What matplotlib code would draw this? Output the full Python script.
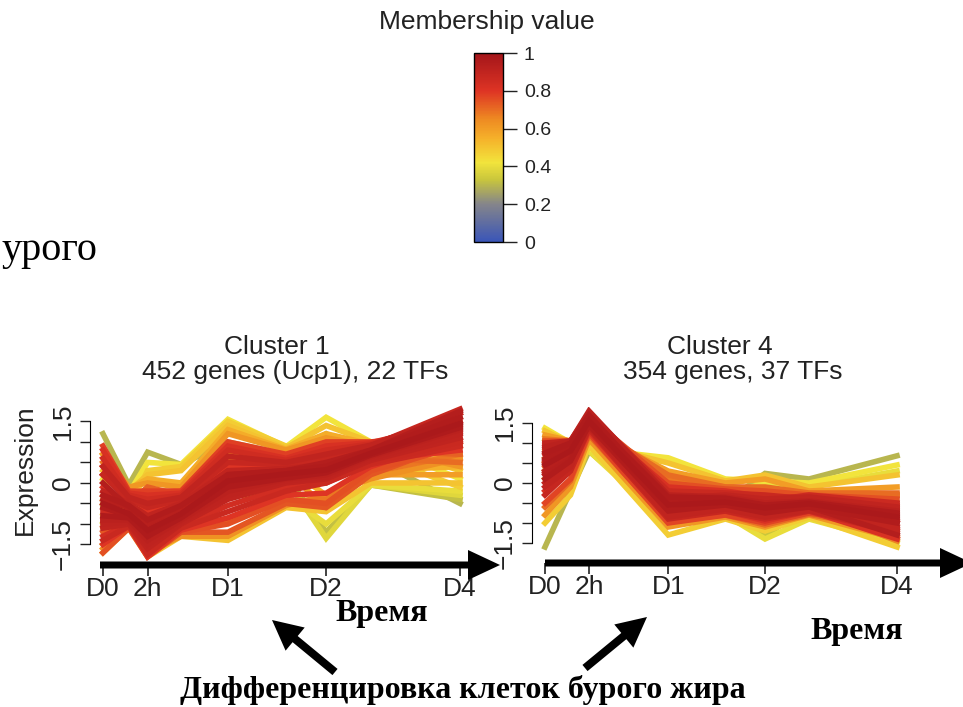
"""
Mfuzz-style cluster profiles (Cluster 1 and Cluster 4) with membership colour bar
and the Russian annotations around them.
"""
import matplotlib
matplotlib.use("Agg")
import matplotlib.pyplot as plt
from matplotlib.colors import LinearSegmentedColormap, Normalize
from matplotlib.cm import ScalarMappable
from matplotlib.patches import FancyArrow

# time points (9 measurements, only 5 are labelled)
time_pos = [0, 0.58, 1.0, 1.75, 2.8, 4.1, 5.0, 6.0, 8.0]
tick_pos = [0, 1.0, 2.8, 5.0, 8.0]
tick_labels = ["D0", "2h", "D1", "D2", "D4"]

# cluster 1: expression profiles and membership values
c1_profiles = [
    [-0.6, -0.8, -1.2, -0.8, 0.0, 0.2, 0.3, 0.7, 1.4],
    [-0.4, -0.6, -1.0, -0.6, 0.1, 0.25, 0.35, 0.75, 1.5],
    [-0.9, -0.9, -1.4, -0.9, -0.2, 0.1, 0.2, 0.65, 1.3],
    [-0.2, -0.5, -0.8, -0.5, 0.3, 0.35, 0.45, 0.85, 1.7],
    [-1.1, -1.0, -1.6, -1.0, -0.4, 0.0, 0.1, 0.55, 1.1],
    [0.2, -0.4, -0.6, -0.4, 0.5, 0.45, 0.6, 0.9, 1.8],
    [-1.4, -1.05, -1.75, -1.1, -0.7, -0.2, 0.0, 0.5, 1.0],
    [0.6, -0.3, -0.4, -0.3, 0.8, 0.55, 0.8, 0.95, 1.6],
    [-0.7, -0.7, -1.1, -0.7, -0.1, 0.15, 0.0, 0.45, 0.9],
    [0.0, -0.6, -1.3, -0.8, 0.2, 0.3, 0.5, 0.8, 1.75],
    [-0.5, -0.75, -1.15, -0.75, 0.05, 0.22, 0.32, 0.72, 1.45],
    [-0.8, -0.85, -1.3, -0.85, -0.1, 0.12, 0.25, 0.68, 1.35],
    [-0.3, -0.55, -0.9, -0.55, 0.2, 0.3, 0.4, 0.8, 1.6],
    [0.4, -0.35, -0.5, -0.35, 0.65, 0.5, 0.7, 0.92, 1.7],
    [-1.0, -0.95, -1.5, -0.95, -0.3, 0.05, 0.15, 0.6, 1.2],
    [-1.3, -1.0, -1.7, -1.05, -0.55, -0.1, 0.05, 0.5, 1.05],
    [0.8, -0.25, -0.3, -0.25, 0.9, 0.6, 0.9, 0.98, 1.5],
    [-0.1, -0.6, -0.7, -0.45, 0.4, 0.4, 0.55, 0.85, 1.0],
    [-0.9, -0.8, -1.2, -0.6, 0.1, 0.25, 0.1, 0.55, 0.8],
    [0.2, -0.45, -1.0, -0.7, 0.0, 0.2, 0.35, 0.7, 1.25],
    [-1.5, -1.05, -1.8, -1.15, -0.85, -0.3, -0.25, 0.4, 1.1],
    [0.9, -0.2, -0.2, -0.2, 1.0, 0.7, 1.0, 1.0, 1.2],
    [-1.7, -1.1, -1.8, -1.2, -1.0, -0.4, -0.5, 0.3, 0.9],
    [0.4, -0.5, -0.1, -0.3, 0.6, 0.6, 0.9, 0.8, 0.7],
    [-1.2, -0.9, -1.5, -1.2, -1.2, -0.5, -0.6, 0.2, 1.0],
    [-0.3, -0.7, -0.5, -0.2, 0.9, 0.5, 0.2, 0.6, 0.5],
    [0.5, -0.4, -0.2, -0.2, 0.7, 0.65, 0.75, 0.75, 0.9],
    [-1.1, -0.9, -1.3, -1.0, -0.9, -0.45, -0.4, 0.25, 0.7],
    [0.7, -0.1, 0.0, -0.1, 1.2, 0.8, 1.1, 0.9, 0.4],
    [-1.6, -1.0, -1.7, -1.3, -1.3, -0.55, -0.3, 0.1, 0.6],
    [-0.5, -0.8, -0.9, -0.5, 0.5, 0.3, -0.6, 0.2, 0.2],
    [0.7, -0.15, 0.1, 0.0, 1.3, 0.82, 1.2, 0.95, 0.6],
    [-0.4, -0.7, -0.7, -0.35, 0.7, 0.4, -0.3, 0.3, 0.4],
    [0.3, -0.2, 0.2, 0.3, 1.4, 0.85, 1.4, 1.0, 0.3],
    [-1.7, -1.1, -1.8, -1.3, -1.4, -0.6, -0.7, 0.0, 0.0],
    [-0.8, -0.6, 0.3, 0.4, 1.5, 0.9, 0.8, 0.7, -0.1],
    [0.1, -0.25, 0.5, 0.45, 1.55, 0.88, 1.6, 1.0, 0.1],
    [-1.5, -0.9, -1.0, -0.9, -0.3, -0.3, -1.0, -0.05, -0.2],
    [-1.0, -0.7, -0.6, -0.4, 0.2, 0.1, -1.35, -0.05, -0.3],
    [1.2, -0.05, 0.75, 0.45, 1.0, 0.7, 1.2, 0.6, -0.5],
    [-0.6, -0.5, -0.3, -0.2, 0.4, 0.2, -1.2, -0.05, -0.4],
]
c1_membership = [0.95, 0.93, 0.92, 0.9, 0.9, 0.88, 0.87, 0.85, 0.86, 0.94,
                 0.97, 0.96, 0.95, 0.9, 0.91, 0.84, 0.82, 0.8, 0.8, 0.88,
                 0.8, 0.78, 0.75, 0.72, 0.74, 0.7, 0.68, 0.68, 0.62, 0.63,
                 0.6, 0.56, 0.55, 0.5, 0.5, 0.48, 0.42, 0.4, 0.38, 0.3, 0.32]

# cluster 4
c4_profiles = [
    [0.6, 0.9, 1.6, 0.72, -0.5, -0.45, -0.6, -0.5, -0.8],
    [0.3, 0.7, 1.5, 0.62, -0.6, -0.5, -0.7, -0.55, -0.9],
    [0.9, 1.05, 1.8, 0.92, -0.3, -0.35, -0.5, -0.45, -0.7],
    [0.0, 0.5, 1.4, 0.48, -0.8, -0.6, -0.8, -0.65, -1.1],
    [1.0, 1.05, 1.7, 0.82, -0.4, -0.3, -0.4, -0.35, -0.6],
    [-0.3, 0.3, 1.35, 0.4, -0.9, -0.7, -0.9, -0.7, -1.25],
    [0.5, 0.85, 1.75, 0.93, -0.2, -0.25, -0.3, -0.4, -1.0],
    [0.7, 0.95, 1.55, 0.6, -0.7, -0.55, -0.45, -0.3, -0.5],
    [0.2, 0.6, 1.5, 0.68, -0.45, -0.5, -0.65, -0.6, -1.3],
    [0.45, 0.8, 1.55, 0.66, -0.55, -0.48, -0.62, -0.52, -0.85],
    [0.75, 1.0, 1.7, 0.8, -0.35, -0.38, -0.55, -0.48, -0.75],
    [0.1, 0.55, 1.45, 0.55, -0.7, -0.55, -0.75, -0.6, -1.0],
    [-0.1, 0.4, 1.4, 0.45, -0.85, -0.65, -0.85, -0.68, -1.2],
    [0.85, 1.0, 1.6, 0.78, -0.6, -0.5, -0.5, -0.4, -0.65],
    [0.25, 0.65, 1.6, 0.7, -0.4, -0.45, -0.75, -0.6, -1.15],
    [-0.2, 0.35, 1.3, 0.4, -0.75, -0.7, -0.95, -0.7, -1.4],
    [0.95, 1.05, 1.75, 0.88, -0.1, -0.2, -0.35, -0.35, -0.55],
    [0.55, 0.85, 1.4, 0.6, -0.5, -0.5, -0.55, -0.5, -0.95],
    [-0.5, 0.1, 1.25, 0.3, -1.0, -0.8, -1.0, -0.75, -1.1],
    [1.05, 1.05, 1.65, 0.96, 0.0, -0.15, -0.2, -0.3, -0.4],
    [0.4, 0.75, 1.3, 0.5, -0.6, -0.6, -0.9, -0.6, -1.35],
    [0.8, 0.95, 1.45, 0.92, 0.2, -0.1, -0.1, -0.25, -0.25],
    [-0.6, 0.05, 1.2, 0.3, -0.95, -0.8, -1.05, -0.78, -1.2],
    [1.1, 1.05, 1.5, 0.8, 0.1, -0.1, -0.15, -0.28, -0.3],
    [0.3, 0.7, 1.25, 0.5, -0.7, -0.6, -0.85, -0.6, -1.45],
    [1.2, 1.05, 1.3, 0.88, 0.3, 0.0, 0.1, -0.2, -0.1],
    [-0.8, -0.1, 1.1, 0.18, -1.1, -0.85, -1.1, -0.8, -1.4],
    [0.5, 0.8, 1.2, 0.57, -0.3, -0.4, -0.3, -0.3, -0.3],
    [1.3, 1.0, 1.0, 0.79, 0.5, 0.05, 0.2, -0.1, 0.2],
    [-1.0, -0.3, 0.95, 0.0, -1.3, -0.9, -1.2, -0.85, -1.6],
    [1.37, 1.0, 0.85, 0.76, 0.63, 0.1, 0.05, 0.0, 0.45],
    [0.1, 0.5, 0.8, 0.04, -1.0, -0.8, -1.4, -0.9, -1.5],
    [0.6, 0.8, 0.9, 0.44, -0.2, -0.3, 0.0, -0.1, 0.3],
    [-1.6, -0.2, 0.8, 0.09, -0.9, -0.5, 0.24, 0.1, 0.68],
    [1.1, 0.9, 0.85, 0.33, -0.4, -0.35, -1.35, -0.5, -0.6],
]
c4_membership = [0.95, 0.93, 0.92, 0.9, 0.9, 0.88, 0.87, 0.86, 0.94,
                 0.97, 0.96, 0.95, 0.9, 0.9, 0.88, 0.82, 0.82, 0.92,
                 0.77, 0.75, 0.73, 0.7, 0.7, 0.68, 0.66, 0.6, 0.62, 0.6,
                 0.5, 0.48, 0.42, 0.4, 0.4, 0.3, 0.33]

cbar_ticks = [0, 0.2, 0.4, 0.6, 0.8, 1]
cbar_labels = ["0", "0.2", "0.4", "0.6", "0.8", "1"]

mfuzz_cmap = LinearSegmentedColormap.from_list("mfuzz", [
    (0.0, "#3a55b8"), (0.2, "#85858a"), (0.33, "#c9c63c"), (0.42, "#f2e43c"),
    (0.55, "#f5b02a"), (0.65, "#ee8a22"), (0.8, "#de3424"), (1.0, "#a3151a")])

W, H = 963, 707
FS = 19
plt.rcParams["font.family"] = ["Liberation Sans", "DejaVu Sans"]
fig = plt.figure(figsize=(W / 100, H / 100), dpi=100)
TXT = "#222222"


def fx(x):
    return x / W


def fy(y):
    return 1 - y / H


def draw_cluster(ax, profiles, membership, xlim):
    order = sorted(range(len(profiles)), key=lambda i: membership[i])
    for i in order:
        ax.plot(time_pos, profiles[i], color=mfuzz_cmap(membership[i]),
                lw=4, solid_joinstyle="miter", zorder=2)
    ax.set_xlim(*xlim)
    ax.set_ylim(-2.0, 1.9)
    for s in ["top", "right", "bottom"]:
        ax.spines[s].set_visible(False)
    ax.spines["left"].set_bounds(-1.5, 1.5)
    ax.set_yticks([-1.5, 0, 1.5])
    ax.set_yticklabels(["\u22121.5", "0", "1.5"], rotation=90, va="center")
    ax.set_yticks([-1, -0.5, 0.5, 1], minor=True)
    ax.tick_params(axis="y", which="both", length=7, width=1, pad=4,
                   labelsize=FS, colors=TXT)
    ax.set_xticks(tick_pos)
    ax.set_xticklabels(tick_labels)
    ax.tick_params(axis="x", length=8, width=1.2, pad=1, labelsize=FS,
                   colors=TXT)
    ax.patch.set_visible(False)


ax1 = fig.add_axes([fx(90), fy(565), fx(374.5), 160 / H])
draw_cluster(ax1, c1_profiles, c1_membership, (-0.29, 8.1))
ax2 = fig.add_axes([fx(532), fy(563), fx(369), 156 / H])
draw_cluster(ax2, c4_profiles, c4_membership, (-0.295, 8.09))

fig.text(fx(25), fy(470), "Expression", rotation=90, ha="center", va="center",
         fontsize=FS, color=TXT)

# titles
fig.text(fx(277), fy(347), "Cluster 1", ha="center", va="center", fontsize=FS, color=TXT)
fig.text(fx(295), fy(372), "452 genes (Ucp1), 22 TFs", ha="center", va="center",
         fontsize=FS, color=TXT)
fig.text(fx(720), fy(347), "Cluster 4", ha="center", va="center", fontsize=FS, color=TXT)
fig.text(fx(733), fy(372), "354 genes, 37 TFs", ha="center", va="center",
         fontsize=FS, color=TXT)

# colour bar
cax = fig.add_axes([fx(474), fy(242), fx(29), 189 / H])
cb = fig.colorbar(ScalarMappable(norm=Normalize(0, 1), cmap=mfuzz_cmap), cax=cax)
cb.set_ticks(cbar_ticks)
cb.set_ticklabels(cbar_labels)
cb.outline.set_linewidth(1)
cax.tick_params(length=10, width=1, labelsize=14, colors=TXT, pad=5)
fig.text(fx(487), fy(22), "Membership value", ha="center", va="center",
         fontsize=FS, color=TXT)


# arrows, in pixel units (dpi 100 -> inches = px / 100)
def arrow(x0, y0, x1, y1, width, head_w, head_l):
    a = FancyArrow(x0 / 100, (H - y0) / 100, (x1 - x0) / 100, (y0 - y1) / 100,
                   width=width / 100, head_width=head_w / 100, head_length=head_l / 100,
                   length_includes_head=True, color="black", lw=0,
                   transform=fig.dpi_scale_trans, zorder=5)
    fig.add_artist(a)


arrow(100, 565, 500, 565, 7, 30, 32)
arrow(545, 563, 972, 563, 7, 30, 32)
arrow(335, 672, 272, 620, 8, 30, 30)
arrow(585, 668, 647, 617, 8, 30, 30)

serif = ["Liberation Serif", "DejaVu Serif"]
fig.text(fx(382), fy(613), "Время", ha="center", va="center", fontsize=23,
         fontweight="bold", family=serif)
fig.text(fx(857), fy(632), "Время", ha="center", va="center", fontsize=23,
         fontweight="bold", family=serif)
fig.text(fx(463), fy(690), "Дифференцировка клеток бурого жира", ha="center",
         va="center", fontsize=23, fontweight="bold", family=serif)
fig.text(fx(1), fy(260), "урого", ha="left", va="baseline", fontsize=29,
         family=serif)

fig.savefig("out.png", dpi=100)
